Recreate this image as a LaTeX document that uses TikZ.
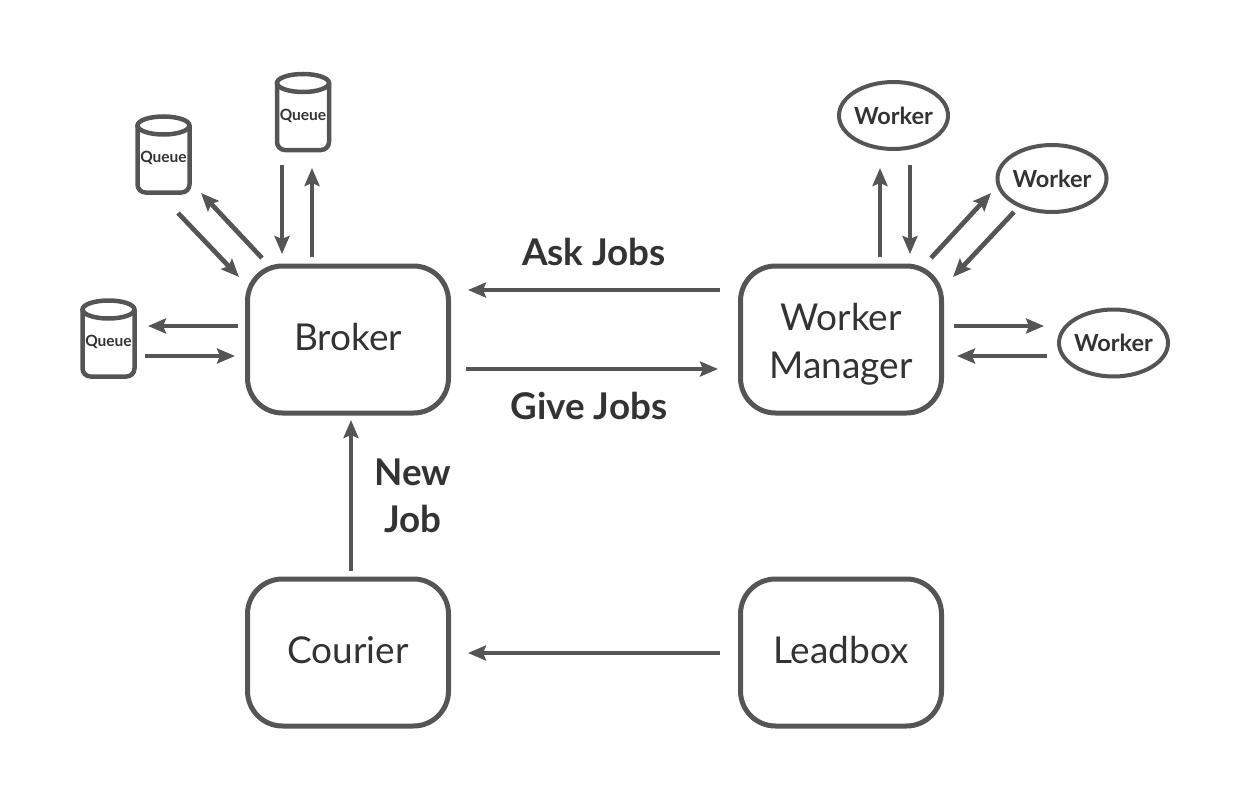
\documentclass[tikz,border=0pt]{standalone}
\usepackage{fontspec}
\setmainfont{Lato}
\usetikzlibrary{arrows.meta,shapes.geometric}
\definecolor{linegray}{HTML}{555555}
\definecolor{textgray}{HTML}{333333}
\newcommand{\lift}[2]{\raisebox{#1}[\height][\depth]{#2}}
\tikzset{
  box/.style={draw=linegray, line width=5pt, rounded corners=35pt, minimum width=201pt, minimum height=147pt, outer sep=0pt, align=center, text=textgray, font=\fontsize{37}{47.5}\selectfont},
  worker/.style={draw=linegray, line width=4pt, ellipse, minimum width=109pt, minimum height=67pt, inner xsep=-10pt, inner ysep=0pt, outer sep=0pt, text=textgray, font=\fontsize{23.5}{30}\selectfont\bfseries},
  queue/.style={minimum width=52pt, minimum height=67pt, inner sep=0pt, outer sep=0pt, text=textgray, font=\fontsize{15.5}{18}\selectfont\bfseries},
  flow/.style={draw=linegray, line width=4.7pt, -{Stealth[length=18pt,width=15pt,inset=3pt]}},
  tag/.style={text=textgray, align=center, font=\fontsize{36.8}{47}\selectfont\bfseries}
}
\begin{document}
\begin{tikzpicture}[x=1pt,y=-1pt]
\useasboundingbox (0,0) rectangle (1250,800);

\node (broker) at (348,339.5) [box] {\lift{2pt}{Broker}};
\node (manager) at (841,339.5) [box] {\lift{-4.5pt}{Worker}\\\lift{-4.5pt}{Manager}};
\node (courier) at (348,652.5) [box] {\lift{2pt}{Courier}};
\node (leadbox) at (841,652.5) [box] {\lift{2pt}{Leadbox}};

\node (queuetop) at (303,114) [queue] {\lift{-1.5pt}{Queue}};
\node (queuemid) at (163.5,156.5) [queue] {\lift{-1.5pt}{Queue}};
\node (queueleft) at (108.5,340.5) [queue] {\lift{-1.5pt}{Queue}};

\foreach \q in {queuetop, queuemid, queueleft} {
\draw[linegray, line width=4.5pt, rounded corners=8pt]
  ([shift={(-26,-31)}]\q.center) -- ++(0,67) -- ++(52,0) -- ++(0,-67);
\draw[linegray, line width=4.5pt] ([shift={(0,-31)}]\q.center) ellipse (26 and 9);
};

\node (workertop) at (893.5,115.5) [worker] {Worker};
\node (workermid) at (1052,178.5) [worker] {Worker};
\node (workerright) at (1113.5,343) [worker] {Worker};

\node (ask) at (594,252) [tag] {Ask Jobs};
\node (give) at (589,406) [tag] {Give Jobs};
\node (newjob) at (413,496) [tag] {New\\Job};

\draw[flow] ([shift={(372,-49.5)}]broker.center) -- ([shift={(120,-49.5)}]broker.center);
\draw[flow] ([shift={(118,29.5)}]broker.center) -- ([shift={(370,29.5)}]broker.center);
\draw[flow] ([shift={(3,-81.5)}]courier.center) -- ([shift={(3,80.5)}]broker.center);
\draw[flow] ([shift={(-121,0.5)}]leadbox.center) -- ([shift={(120,0.5)}]courier.center);

\draw[flow] ([shift={(-21,51)}]queuetop.center) -- ([shift={(-66,-85.5)}]broker.center);
\draw[flow] ([shift={(-36,-82.5)}]broker.center) -- ([shift={(9,54)}]queuetop.center);
\draw[flow] ([shift={(14.5,56.5)}]queuemid.center) -- ([shift={(-109,-62.5)}]broker.center);
\draw[flow] ([shift={(-86,-81.5)}]broker.center) -- ([shift={(37.5,36.5)}]queuemid.center);
\draw[flow] ([shift={(-110,-13.5)}]broker.center) -- ([shift={(39.5,-14.5)}]queueleft.center);
\draw[flow] ([shift={(36.5,15.5)}]queueleft.center) -- ([shift={(-113,16.5)}]broker.center);

\draw[flow] ([shift={(39,-82.5)}]manager.center) -- ([shift={(-13.5,52.5)}]workertop.center);
\draw[flow] ([shift={(16.5,49.5)}]workertop.center) -- ([shift={(69,-85.5)}]manager.center);
\draw[flow] ([shift={(90,-81.5)}]manager.center) -- ([shift={(-61,14.5)}]workermid.center);
\draw[flow] ([shift={(-38,33.5)}]workermid.center) -- ([shift={(112,-62.5)}]manager.center);
\draw[flow] ([shift={(113,-13.5)}]manager.center) -- ([shift={(-69.5,-17)}]workerright.center);
\draw[flow] ([shift={(-66.5,13)}]workerright.center) -- ([shift={(116,16.5)}]manager.center);

\end{tikzpicture}
\end{document}
